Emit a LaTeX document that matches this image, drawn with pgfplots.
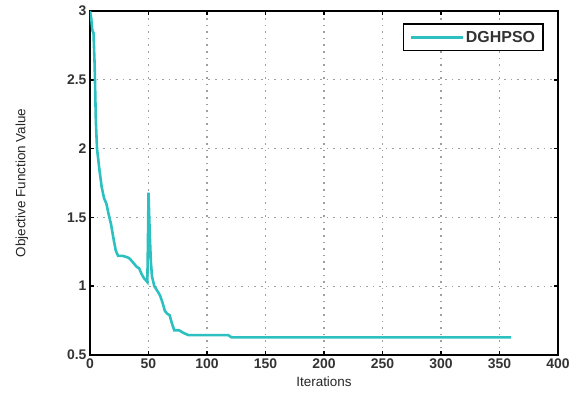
\documentclass[border=0pt]{standalone}
\usepackage{pgfplots}
\pgfplotsset{compat=1.18}
\usepackage{fontspec}
\setmainfont{Liberation Sans}
\definecolor{linecyan}{RGB}{45,192,192}
\begin{document}
\begin{tikzpicture}
\path[use as bounding box] (-90bp,-43bp) rectangle (491bp,355bp);
\begin{axis}[
  at={(0,0)}, anchor=south west,
  scale only axis,
  width=468bp, height=344bp,
  xmin=0, xmax=400, ymin=0.5, ymax=3,
  xtick={0,50,...,400},
  ytick={0.5,1,1.5,2,2.5,3},
  yticklabels={0.5,1,1.5,2,2.5,3},
  /pgf/number format/assume math mode=true,
  tick label style={font=\fontsize{14}{15}\selectfont\bfseries, text=black!80},
  label style={font=\fontsize{13.5}{14}\selectfont, text=black!85},
  xlabel={Iterations},
  ylabel={Objective Function Value},
  xlabel style={yshift=-1bp},
  ylabel style={yshift=32bp},
  grid=major,
  grid style={dash pattern=on 1.6pt off 5pt, gray!75, line width=1.4pt},
  axis line style={black, line width=2pt},
  tick style={black, line width=1.5pt},
  major tick length=4bp,
  tick align=inside,
  legend style={at={(0.97,0.965)}, anchor=north east, draw=black, line width=1.8pt,
    font=\fontsize{16}{17}\selectfont\bfseries, text=black!80, inner xsep=6bp, inner ysep=5bp},
  legend image code/.code={\draw[#1] (0bp,0bp) -- (52bp,0bp);},
  legend cell align=left,
]
\addplot[linecyan, line width=2.6pt] coordinates {
(0,3.0) (1,2.95) (2,2.86) (3,2.84) (4,2.6) (5,2.2) (6,2.0) (8,1.85) (10,1.72) (12,1.64)
(14,1.6) (16,1.52) (18,1.45) (20,1.35) (22,1.26) (24,1.22) (28,1.22) (32,1.21)
(34,1.2) (36,1.18) (38,1.16) (40,1.14) (42,1.13) (44,1.09) (46,1.06) (48,1.04)
(49,1.03) (49.5,1.3) (50,1.68) (51,1.4) (52,1.18) (53,1.07) (55,1.0) (58,0.96)
(60,0.93) (62,0.88) (64,0.82) (66,0.8) (68,0.79) (70,0.73) (72,0.68) (76,0.68)
(80,0.66) (84,0.645) (100,0.645) (118,0.645) (121,0.628) (200,0.628) (360,0.628)
};
\addlegendentry{DGHPSO}
\end{axis}
\end{tikzpicture}
\end{document}
